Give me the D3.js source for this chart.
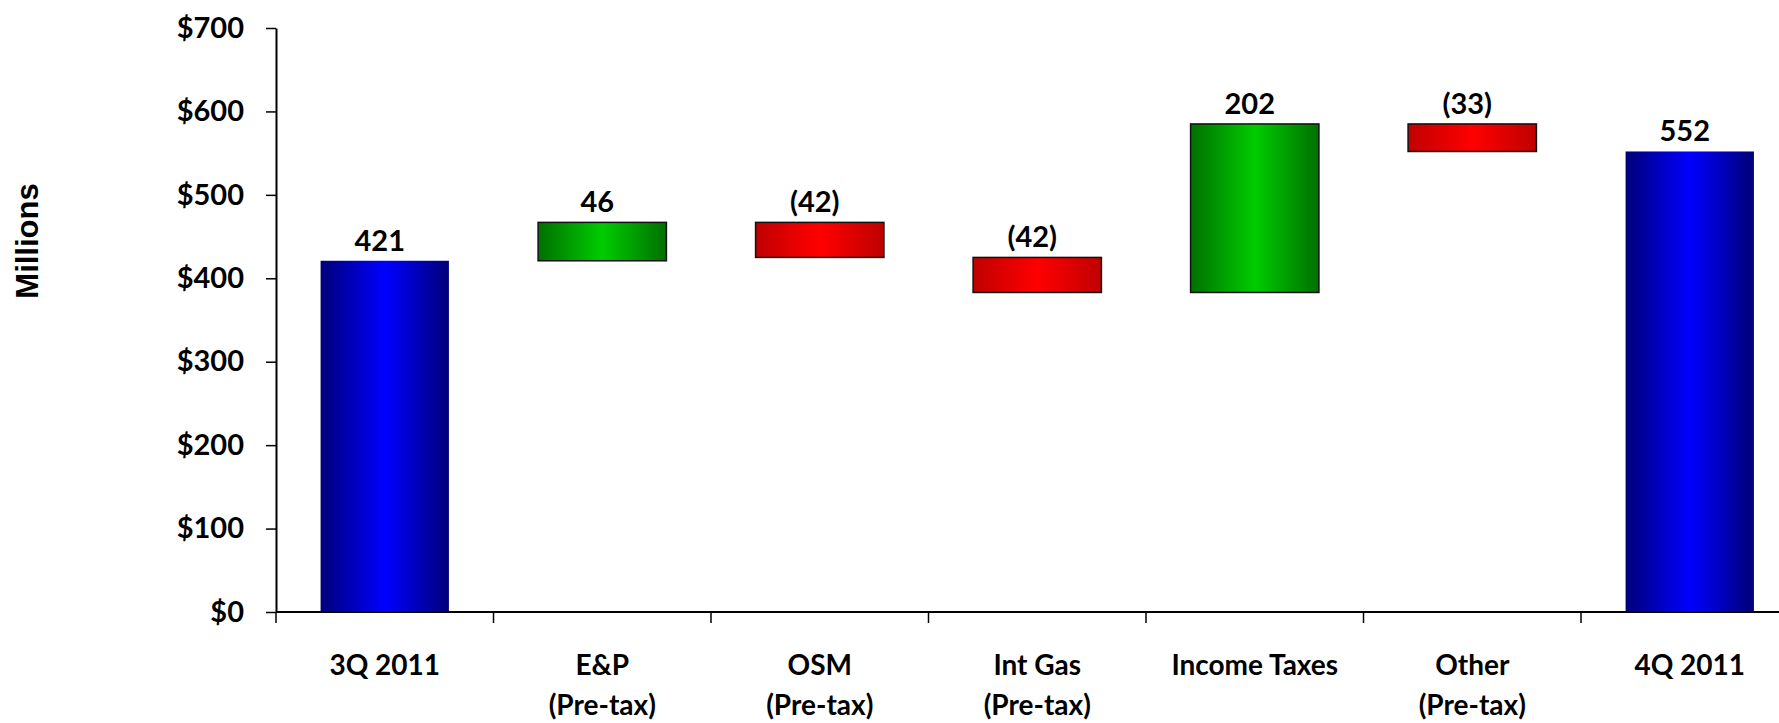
<!DOCTYPE html>
<html><head><meta charset="utf-8">
<script src="https://cdn.jsdelivr.net/npm/d3@7"></script>
<style>
html,body{margin:0;padding:0;background:#fff;overflow:hidden;}
svg{display:block;}
text{font-family:Lato,"Open Sans",sans-serif;font-weight:700;fill:#000;}
</style></head>
<body>
<svg id="chart" width="1779" height="723"></svg>
<script>
const categories = ["3Q 2011", "E&P\n(Pre-tax)", "OSM\n(Pre-tax)", "Int Gas\n(Pre-tax)", "Income Taxes", "Other\n(Pre-tax)", "4Q 2011"];
const values = [421, 46, -42, -42, 202, -33, 552];
const kinds = ["total", "delta", "delta", "delta", "delta", "delta", "total"];
const valueLabels = ["421", "46", "(42)", "(42)", "202", "(33)", "552"];
const yTicks = [0, 100, 200, 300, 400, 500, 600, 700];
const yTitle = "Millions";

// build waterfall segments
let running = 0;
const segs = values.map((v, i) => {
  let lo, hi, type;
  if (kinds[i] === "total") { lo = 0; hi = v; running = v; type = "total"; }
  else { const start = running; running += v; lo = Math.min(start, running); hi = Math.max(start, running); type = v >= 0 ? "up" : "down"; }
  return {cat: categories[i], lo, hi, type, label: valueLabels[i]};
});

const svg = d3.select("#chart");
const left = 276, step = 217.5;
const x = d3.scaleBand().domain(categories).range([left, left + step * categories.length]).paddingInner(0.41).paddingOuter(0.205);
const y = d3.scaleLinear().domain([0, 700]).range([612, 28]);

const defs = svg.append("defs");
function grad(id, edge, mid) {
  const g = defs.append("linearGradient").attr("id", id).attr("x1", "0%").attr("x2", "100%").attr("y1", "0%").attr("y2", "0%");
  g.append("stop").attr("offset", "0%").attr("stop-color", edge);
  g.append("stop").attr("offset", "50%").attr("stop-color", mid);
  g.append("stop").attr("offset", "100%").attr("stop-color", edge);
}
grad("gTotal", "#000078", "#0000ff");
grad("gUp", "#007000", "#00cc00");
grad("gDown", "#c00000", "#ff0000");
const fillFor = {total: "url(#gTotal)", up: "url(#gUp)", down: "url(#gDown)"};

// bars
svg.append("g").selectAll("rect").data(segs).join("rect")
  .attr("x", d => x(d.cat))
  .attr("width", x.bandwidth())
  .attr("y", d => y(d.hi))
  .attr("height", d => y(d.lo) - y(d.hi))
  .attr("fill", d => fillFor[d.type])
  .attr("stroke", d => d.type === "total" ? "none" : "#111")
  .attr("stroke-width", 1.5);

// value labels
svg.append("g").selectAll("text").data(segs).join("text")
  .attr("x", d => x(d.cat) + x.bandwidth() / 2 - 5)
  .attr("y", d => y(d.hi) - 10)
  .attr("text-anchor", "middle")
  .style("font-size", "29px")
  .text(d => d.label);

// y axis
const yAxis = d3.axisLeft(y).tickValues(yTicks).tickSize(10).tickSizeOuter(0).tickPadding(22).tickFormat(d => "$" + d);
const gy = svg.append("g").attr("transform", `translate(${left},0)`).call(yAxis);
gy.select(".domain").attr("stroke", "#000").attr("stroke-width", 2);
gy.selectAll(".tick line").attr("stroke", "#000").attr("stroke-width", 1.5);
gy.selectAll(".tick text").style("font-size", "29px").attr("font-family", null).attr("font-size", null);

// x axis line
svg.append("line").attr("x1", left).attr("x2", 1779).attr("y1", y(0)).attr("y2", y(0)).attr("stroke", "#000").attr("stroke-width", 2);
// x ticks at band boundaries
const bounds = d3.range(categories.length + 1).map(i => x.range()[0] + i * x.step());
svg.append("g").selectAll("line").data(bounds).join("line")
  .attr("x1", d => d).attr("x2", d => d).attr("y1", y(0)).attr("y2", y(0) + 11)
  .attr("stroke", "#000").attr("stroke-width", 1.5);

// category labels
const cl = svg.append("g").selectAll("text").data(categories).join("text")
  .attr("x", d => x(d) + x.bandwidth() / 2)
  .attr("y", 675)
  .attr("text-anchor", "middle")
  .style("font-size", "28px");
cl.selectAll("tspan").data(d => d.split("\n")).join("tspan")
  .attr("x", function() { return d3.select(this.parentNode).attr("x"); })
  .attr("dy", (d, i) => i === 0 ? 0 : 40)
  .text(d => d);

// y title
svg.append("text")
  .attr("transform", "translate(38,241) rotate(-90)")
  .attr("text-anchor", "middle")
  .style("font-family", "'Liberation Sans', Arial, sans-serif")
  .style("font-size", "31px")
  .text(yTitle);
</script>
</body></html>
